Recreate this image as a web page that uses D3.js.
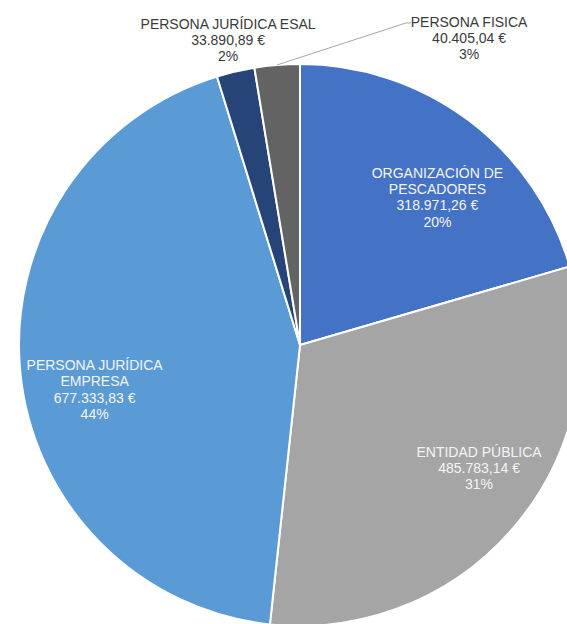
<!DOCTYPE html>
<html><head><meta charset="utf-8">
<script src="https://cdn.jsdelivr.net/npm/d3@7"></script>
<style>
html,body{margin:0;padding:0;background:#fff;overflow:hidden;}
svg{display:block;}
text{font-family:"Liberation Sans",Arial,sans-serif;font-size:14px;}
</style></head>
<body>
<svg id="chart" width="567" height="624"></svg>
<script>
const categories = ["ORGANIZACIÓN DE PESCADORES","ENTIDAD PÚBLICA","PERSONA JURÍDICA EMPRESA","PERSONA JURÍDICA ESAL","PERSONA FISICA"];
const labelLines = [["ORGANIZACIÓN DE","PESCADORES"],["ENTIDAD PÚBLICA"],["PERSONA JURÍDICA","EMPRESA"],["PERSONA JURÍDICA ESAL"],["PERSONA FISICA"]];
const values = [318971.26, 485783.14, 677333.83, 33890.89, 40405.04];
const valueLabels = ["318.971,26 €","485.783,14 €","677.333,83 €","33.890,89 €","40.405,04 €"];
const percentLabels = ["20%","31%","44%","2%","3%"];
const colors = ["#4472C4","#A5A5A5","#5B9BD5","#264478","#636363"];

const svg = d3.select("#chart");
const cx = 300, cy = 345, R = 281;
const g = svg.append("g").attr("transform", `translate(${cx},${cy})`);

const data = values.map((v,i)=>({i, v}));
const pie = d3.pie().sort(null).value(d=>d.v);
const arcs = pie(data);
const arc = d3.arc().innerRadius(0).outerRadius(R);

g.selectAll("path.slice").data(arcs).enter().append("path")
  .attr("class","slice")
  .attr("d", arc)
  .attr("fill", d=>colors[d.data.i])
  .attr("stroke","#fff").attr("stroke-width",2).attr("stroke-linejoin","round");

// label placement (layout, not data)
const inArc = d3.arc().innerRadius(R*0.72).outerRadius(R*0.72);
const outArc = d3.arc().innerRadius(R*1.115).outerRadius(R*1.115);
const edgeArc = d3.arc().innerRadius(R).outerRadius(R);
const nudge = [[16,14],[24,-7],[-4,25],[0,0],[0,0]];
const lineH = 16.3;

arcs.forEach((d, k) => {
  const i = d.data.i;
  const lines = labelLines[i].concat([valueLabels[i], percentLabels[i]]);
  const inside = i < 3;
  let x, y;
  if (inside) {
    const c = inArc.centroid(d);
    x = c[0] + nudge[i][0]; y = c[1] + nudge[i][1];
  } else if (i === 3) {
    const c = outArc.centroid(d);
    x = c[0]; y = c[1];
  } else {
    // moved label with leader line
    const e = edgeArc.centroid(d);
    const lx = e[0] + 130, ly = e[1] - 42;
    g.append("polyline")
      .attr("points", `${e[0]},${e[1]} ${lx-1},${ly} ${lx+4},${ly}`)
      .attr("fill","none").attr("stroke","#a6a6a6").attr("stroke-width",1);
    x = lx + 62; y = ly + 15;
  }
  const h = (lines.length - 1) * lineH;
  const t = g.append("text")
    .attr("text-anchor","middle")
    .attr("fill", inside ? "#f4f4f4" : "#3a3a3a");
  lines.forEach((s, j) => {
    t.append("tspan").attr("x", x).attr("y", y - h/2 + j*lineH + 5).text(s);
  });
});
</script>
</body></html>
